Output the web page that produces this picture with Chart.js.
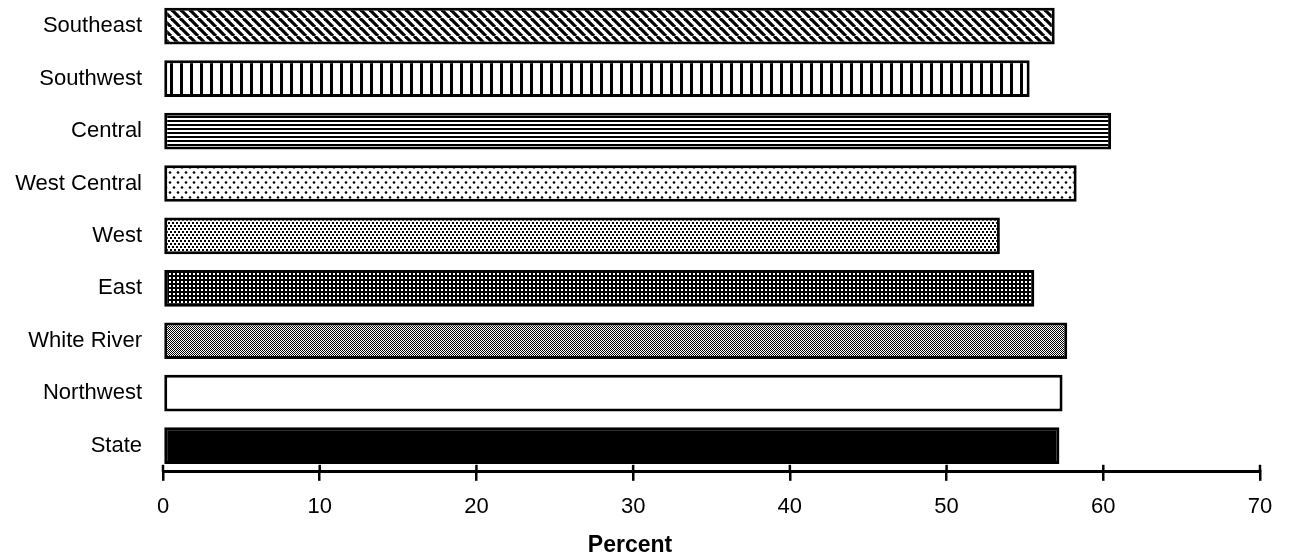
<!DOCTYPE html>
<html>
<head>
<meta charset="utf-8">
<script src="https://cdn.jsdelivr.net/npm/chart.js@4/dist/chart.umd.min.js"></script>
<style>
    html, body { margin: 0; padding: 0; background: #fff; }
    #chart { display: block; }
</style>
</head>
<body>
<canvas id="chart" width="1290" height="557"></canvas>
<script>
// --- DATOS ---
const regions = ['Southeast', 'Southwest', 'Central', 'West Central', 'West', 'East', 'White River', 'Northwest', 'State'];
const percents = [56.9, 55.3, 60.5, 58.3, 53.4, 55.6, 57.7, 57.4, 57.2];
const fillKinds = ['diagonal', 'vertical', 'horizontal', 'sparseDots', 'denseDots', 'darkDots', 'checker', 'white', 'black'];
const xMin = 0;
const xMax = 70;
const xStep = 10;
const axisTitle = 'Percent';

const FONT = "'Liberation Sans', Arial, Helvetica, sans-serif";

// --- TRAMAS (patrones de relleno en blanco y negro) ---
function makePattern(kind) {
    if (kind === 'white') return '#fff';
    if (kind === 'black') return '#000';

    const c = document.createElement('canvas');
    let g;
    if (kind === 'diagonal') {
        c.width = 9; c.height = 9;
        g = c.getContext('2d');
        g.fillStyle = '#fff'; g.fillRect(0, 0, 9, 9);
        g.strokeStyle = '#000'; g.lineWidth = 3.2;
        for (let k = -1; k <= 1; k++) {
            g.beginPath(); g.moveTo(k * 9, 0); g.lineTo(k * 9 + 9, 9); g.stroke();
        }
    } else if (kind === 'vertical') {
        c.width = 10; c.height = 10;
        g = c.getContext('2d');
        g.fillStyle = '#fff'; g.fillRect(0, 0, 10, 10);
        g.fillStyle = '#000'; g.fillRect(0, 0, 3, 10);
    } else if (kind === 'horizontal') {
        c.width = 4; c.height = 4;
        g = c.getContext('2d');
        g.fillStyle = '#fff'; g.fillRect(0, 0, 4, 4);
        g.fillStyle = '#000'; g.fillRect(0, 0, 4, 2);
    } else if (kind === 'sparseDots') {
        c.width = 8; c.height = 10;
        g = c.getContext('2d');
        g.fillStyle = '#fff'; g.fillRect(0, 0, 8, 10);
        g.fillStyle = '#000';
        g.beginPath(); g.arc(2, 2.5, 1.3, 0, Math.PI * 2); g.fill();
        g.beginPath(); g.arc(6, 7.5, 1.3, 0, Math.PI * 2); g.fill();
    } else if (kind === 'denseDots') {
        c.width = 4; c.height = 6;
        g = c.getContext('2d');
        g.fillStyle = '#fff'; g.fillRect(0, 0, 4, 6);
        g.fillStyle = '#000';
        g.fillRect(0, 0, 2, 2);
        g.fillRect(2, 3, 2, 2);
    } else if (kind === 'darkDots') {
        c.width = 4; c.height = 4;
        g = c.getContext('2d');
        g.fillStyle = '#000'; g.fillRect(0, 0, 4, 4);
        g.fillStyle = '#fff'; g.fillRect(1, 1, 2, 2);
    } else if (kind === 'checker') {
        c.width = 2; c.height = 2;
        g = c.getContext('2d');
        g.fillStyle = '#fff'; g.fillRect(0, 0, 2, 2);
        g.fillStyle = '#000'; g.fillRect(0, 0, 1, 1); g.fillRect(1, 1, 1, 1);
    }
    return g.createPattern(c, 'repeat');
}

// Marcas del eje X que cruzan la línea (parte superior)
const crossTicks = {
    id: 'crossTicks',
    afterDraw(chart) {
        const sx = chart.scales.x;
        const ctx = chart.ctx;
        const yb = chart.chartArea.bottom;
        ctx.save();
        ctx.strokeStyle = '#000';
        ctx.lineWidth = 2.5;
        sx.ticks.forEach(t => {
            const px = sx.getPixelForValue(t.value);
            ctx.beginPath();
            ctx.moveTo(px, yb - 7);
            ctx.lineTo(px, yb);
            ctx.stroke();
        });
        ctx.restore();
    }
};

function initChart() {
    const ctx = document.getElementById('chart').getContext('2d');
    new Chart(ctx, {
        type: 'bar',
        data: {
            labels: regions,
            datasets: [{
                data: percents,
                backgroundColor: fillKinds.map(makePattern),
                borderColor: '#000',
                borderWidth: 3,
                borderSkipped: false,
                barPercentage: 0.7,
                categoryPercentage: 1.0
            }]
        },
        options: {
            indexAxis: 'y',
            responsive: false,
            animation: false,
            layout: { padding: { top: -2, right: 30, left: 0, bottom: 0 } },
            plugins: {
                legend: { display: false },
                tooltip: { enabled: false },
                title: {
                    display: true,
                    position: 'bottom',
                    text: axisTitle,
                    color: '#000',
                    font: { family: FONT, size: 23, weight: 'bold', lineHeight: 1.0 },
                    padding: { top: 0.8, bottom: 0 }
                }
            },
            scales: {
                x: {
                    min: xMin,
                    max: xMax,
                    ticks: {
                        stepSize: xStep,
                        color: '#000',
                        padding: 13,
                        font: { family: FONT, size: 22 }
                    },
                    grid: {
                        drawOnChartArea: false,
                        drawTicks: true,
                        tickLength: 9,
                        color: '#000',
                        lineWidth: 2.5
                    },
                    border: { display: true, color: '#000', width: 3 }
                },
                y: {
                    grid: { display: false },
                    border: { display: false },
                    ticks: {
                        color: '#000',
                        padding: 13,
                        font: { family: FONT, size: 22 }
                    },
                    afterFit(scale) {
                        scale.width = 163;
                        scale.paddingTop = 0;
                        scale.paddingBottom = 0;
                    }
                }
            }
        },
        plugins: [crossTicks]
    });
}

window.addEventListener('load', initChart);
</script>
</body>
</html>
